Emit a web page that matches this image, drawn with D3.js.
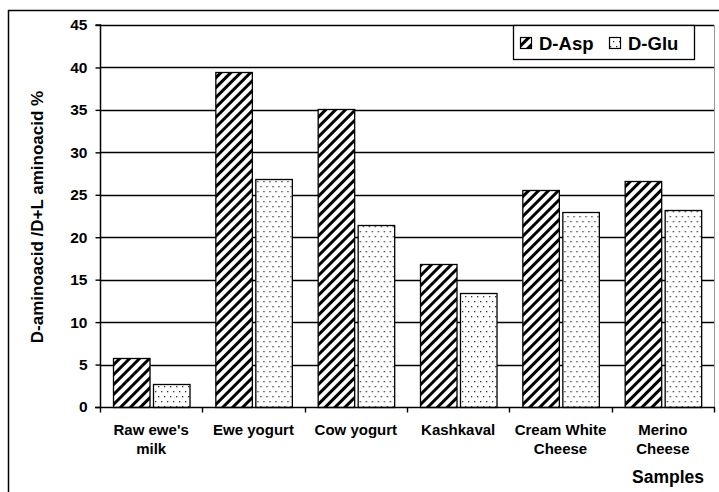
<!DOCTYPE html>
<html>
<head>
<meta charset="utf-8">
<script src="https://cdn.jsdelivr.net/npm/d3@7"></script>
<style>
  html, body { margin: 0; padding: 0; background: #fff; }
  svg { display: block; }
  text { font-family: "Liberation Sans", Arial, sans-serif; font-weight: bold; fill: #000; }
</style>
</head>
<body>
<svg id="chart" width="719" height="492"></svg>
<script>
const categories = [["Raw ewe's", "milk"], ["Ewe yogurt"], ["Cow yogurt"], ["Kashkaval"], ["Cream White", "Cheese"], ["Merino", "Cheese"]];
const seriesNames = ["D-Asp", "D-Glu"];
const dAsp = [5.8, 39.5, 35.1, 16.8, 25.6, 26.6];
const dGlu = [2.7, 26.9, 21.4, 13.4, 23.0, 23.2];
const yTicks = [0, 5, 10, 15, 20, 25, 30, 35, 40, 45];
const yTitle = "D-aminoacid /D+L aminoacid %";
const xTitle = "Samples";

(function () {
const svg = d3.select("#chart");
const pL = 100, pR = 714, pT = 25, pB = 407;

// patterns
const defs = svg.append("defs");
const hatch = defs.append("pattern").attr("id", "hatch").attr("patternUnits", "userSpaceOnUse")
  .attr("width", 7).attr("height", 7).attr("patternTransform", "rotate(45)");
hatch.append("rect").attr("width", 7).attr("height", 7).attr("fill", "#fff");
hatch.append("rect").attr("x", 0).attr("y", 0).attr("width", 3).attr("height", 7).attr("fill", "#000");

const dots = defs.append("pattern").attr("id", "dots").attr("patternUnits", "userSpaceOnUse")
  .attr("width", 6).attr("height", 10);
dots.append("rect").attr("width", 6).attr("height", 10).attr("fill", "#fff");
dots.append("rect").attr("x", 1).attr("y", 1).attr("width", 1.3).attr("height", 1.3).attr("fill", "#333");
dots.append("rect").attr("x", 4).attr("y", 6).attr("width", 1.3).attr("height", 1.3).attr("fill", "#333");

// outer border
svg.append("rect").attr("x", 8.5).attr("y", 10.5).attr("width", 740).attr("height", 500)
  .attr("fill", "none").attr("stroke", "#000").attr("stroke-width", 1.5);

const catKeys = categories.map(c => c.join(" "));
const x0 = d3.scaleBand().domain(catKeys).range([pL, pR]).paddingInner(0).paddingOuter(0);
const x1 = d3.scaleBand().domain(seriesNames).range([0, x0.bandwidth()]).paddingInner(0.099).paddingOuter(0.312);
const y = d3.scaleLinear().domain([0, 45]).range([pB, pT]);

// gridlines
svg.append("g").selectAll("line").data(yTicks.filter(d => d > 0)).join("line")
  .attr("x1", pL).attr("x2", pR)
  .attr("y1", d => Math.round(y(d)) + 0.5).attr("y2", d => Math.round(y(d)) + 0.5)
  .attr("stroke", "#000").attr("stroke-width", 1.4);

// right plot edge
svg.append("line").attr("x1", pR + 0.5).attr("x2", pR + 0.5).attr("y1", pT).attr("y2", pB)
  .attr("stroke", "#999").attr("stroke-width", 1);

// bars
const series = [dAsp, dGlu];
const fills = ["url(#hatch)", "url(#dots)"];
const groups = svg.append("g").selectAll("g").data(catKeys).join("g")
  .attr("transform", d => `translate(${x0(d)},0)`);
groups.selectAll("rect").data((d, i) => seriesNames.map((s, j) => ({ s, v: series[j][i], j })))
  .join("rect")
  .attr("x", d => Math.round(x1(d.s)) + 0.5)
  .attr("y", d => Math.round(y(d.v)) + 0.5)
  .attr("width", x1.bandwidth())
  .attr("height", d => Math.round(pB - y(d.v)))
  .attr("fill", d => fills[d.j]).attr("stroke", "#000").attr("stroke-width", 1.3);

// y axis
const yAxis = d3.axisLeft(y).tickValues(yTicks).tickSize(5).tickPadding(8);
const gy = svg.append("g").attr("transform", `translate(${pL + 0.5},0)`).call(yAxis);
gy.select(".domain").attr("stroke", "#000").attr("stroke-width", 1.5).attr("d", `M-5,${pT}H0V${pB}`);
gy.selectAll(".tick line").attr("stroke", "#000").attr("stroke-width", 1.4);
gy.selectAll(".tick text").style("font-size", "15.5px").style("font-family", "'Liberation Sans', Arial, sans-serif").style("font-weight", "bold").attr("fill", "#000");

// x axis
const gx = svg.append("g").attr("transform", `translate(0,${pB + 0.5})`);
gx.append("line").attr("x1", pL - 5).attr("x2", pR + 1).attr("y1", 0).attr("y2", 0)
  .attr("stroke", "#000").attr("stroke-width", 1.5);
const tickPos = catKeys.map(k => x0(k)).concat([pR]);
gx.selectAll("line.t").data(tickPos).join("line").attr("class", "t")
  .attr("x1", d => Math.round(d) + 0.5).attr("x2", d => Math.round(d) + 0.5).attr("y1", 0).attr("y2", 5)
  .attr("stroke", "#000").attr("stroke-width", 1.4);
const labels = svg.append("g").selectAll("text").data(categories).join("text")
  .attr("text-anchor", "middle").style("font-size", "15px")
  .attr("x", (d, i) => x0(catKeys[i]) + x0.bandwidth() / 2)
  .attr("y", 435);
labels.selectAll("tspan").data(d => d).join("tspan")
  .attr("x", function () { return this.parentNode.getAttribute("x"); })
  .attr("dy", (d, i) => i === 0 ? 0 : 19).text(d => d);

// axis titles
svg.append("text").attr("x", 704).attr("y", 483).attr("text-anchor", "end").style("font-size", "17.5px").text(xTitle);
svg.append("text").attr("transform", "translate(43,217) rotate(-90)").attr("text-anchor", "middle")
  .style("font-size", "17px").text(yTitle);

// legend
const lg = svg.append("g");
lg.append("rect").attr("x", 513.5).attr("y", 25.5).attr("width", 181).attr("height", 34)
  .attr("fill", "#fff").attr("stroke", "#000").attr("stroke-width", 1.3);
const legX = [520, 609];
seriesNames.forEach((s, j) => {
  lg.append("rect").attr("x", legX[j] + 0.5).attr("y", 37.5).attr("width", 11).attr("height", 11)
    .attr("fill", fills[j]).attr("stroke", "#000").attr("stroke-width", 1.2);
  lg.append("text").attr("x", legX[j] + 19).attr("y", 49.5).style("font-size", "18.5px").text(s);
});
})();
</script>
</body>
</html>
